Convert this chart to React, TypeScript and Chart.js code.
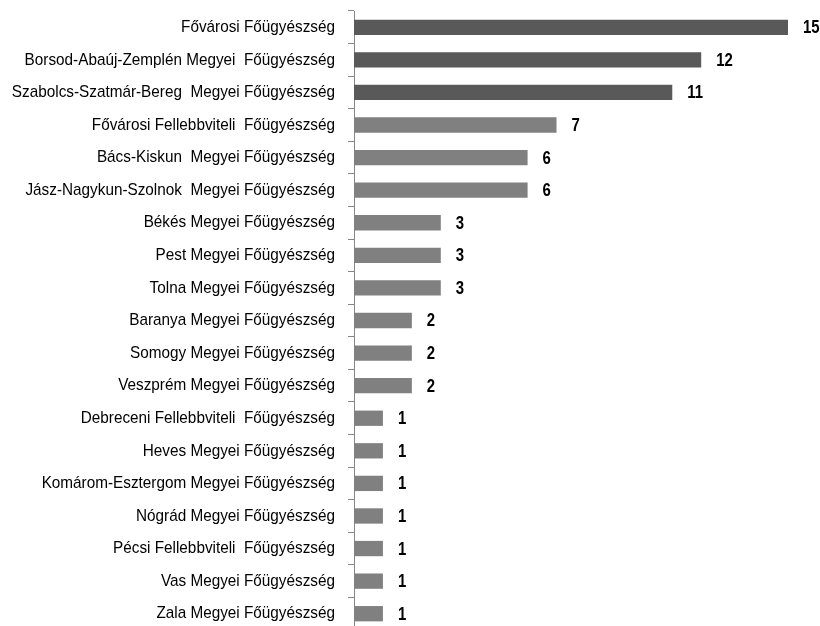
import React, { useEffect, useRef } from "react";
import { Chart, registerables } from "chart.js";

Chart.register(...registerables);

const categories = [
  "Fővárosi Főügyészség",
  "Borsod-Abaúj-Zemplén Megyei  Főügyészség",
  "Szabolcs-Szatmár-Bereg  Megyei Főügyészség",
  "Fővárosi Fellebbviteli  Főügyészség",
  "Bács-Kiskun  Megyei Főügyészség",
  "Jász-Nagykun-Szolnok  Megyei Főügyészség",
  "Békés Megyei Főügyészség",
  "Pest Megyei Főügyészség",
  "Tolna Megyei Főügyészség",
  "Baranya Megyei Főügyészség",
  "Somogy Megyei Főügyészség",
  "Veszprém Megyei Főügyészség",
  "Debreceni Fellebbviteli  Főügyészség",
  "Heves Megyei Főügyészség",
  "Komárom-Esztergom Megyei Főügyészség",
  "Nógrád Megyei Főügyészség",
  "Pécsi Fellebbviteli  Főügyészség",
  "Vas Megyei Főügyészség",
  "Zala Megyei Főügyészség",
];

const values = [15, 12, 11, 7, 6, 6, 3, 3, 3, 2, 2, 2, 1, 1, 1, 1, 1, 1, 1];

const barColors = values.map((_, i) => (i < 3 ? "#595959" : "#808080"));

const FONT = "'Liberation Sans', Arial, sans-serif";

const textPlugin = {
  id: "condensedText",
  afterDatasetsDraw(chart: any) {
    const ctx = chart.ctx;
    const meta = chart.getDatasetMeta(0);
    const yScale = chart.scales.y;
    ctx.save();
    ctx.fillStyle = "#000000";
    ctx.textBaseline = "middle";
    // value labels
    ctx.font = "bold 18px " + FONT;
    ctx.textAlign = "left";
    meta.data.forEach((bar: any, i: number) => {
      ctx.save();
      ctx.translate(bar.x + 15, bar.y + 1);
      ctx.scale(0.83, 1);
      ctx.fillText(String(values[i]), 0, 0);
      ctx.restore();
    });
    // category labels
    ctx.font = "17px " + FONT;
    ctx.textAlign = "right";
    categories.forEach((label, i) => {
      const y = yScale.getPixelForTick(i);
      ctx.save();
      ctx.translate(335, y);
      ctx.scale(0.9, 1);
      ctx.fillText(label, 0, 0);
      ctx.restore();
    });
    ctx.restore();
  },
};

export default function App() {
  const ref = useRef<HTMLCanvasElement>(null);
  useEffect(() => {
    if (!ref.current) return;
    const chart = new Chart(ref.current, {
      type: "bar",
      data: {
        labels: categories,
        datasets: [
          {
            data: values,
            backgroundColor: barColors,
            borderWidth: 0,
            categoryPercentage: 1,
            barPercentage: 0.47,
          },
        ],
      },
      options: {
        indexAxis: "y",
        animation: false,
        responsive: false,
        maintainAspectRatio: false,
        layout: { padding: { left: 0, right: 32, top: 11, bottom: 0 } },
        plugins: {
          legend: { display: false },
          tooltip: { enabled: false },
        },
        scales: {
          x: {
            display: false,
            min: 0,
            max: 15,
          },
          y: {
            afterFit(scale: any) {
              scale.width = 354;
              scale.paddingTop = 0;
              scale.paddingBottom = 0;
            },
            border: { display: true, color: "#868686", width: 1 },
            grid: {
              display: true,
              drawOnChartArea: false,
              drawTicks: true,
              tickLength: 6,
              color: "#868686",
              offset: true,
            },
            ticks: {
              display: true,
              color: "rgba(0,0,0,0)",
              padding: 14,
              font: { family: FONT, size: 12 },
              autoSkip: false,
            },
          },
        },
      },
      plugins: [textPlugin],
    });
    return () => chart.destroy();
  }, []);
  return (
    <div style={{ position: "fixed", left: 0, top: 0, width: 820, height: 630 }}>
      <canvas ref={ref} width={820} height={630} style={{ width: 820, height: 630 }} />
    </div>
  );
}
